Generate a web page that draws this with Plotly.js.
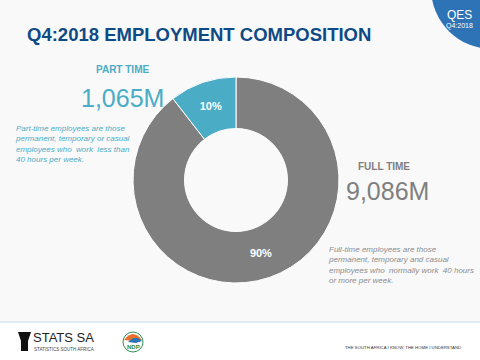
<!DOCTYPE html>
<html>
<head>
<meta charset="utf-8">
<script src="https://cdn.plot.ly/plotly-3.0.1.min.js"></script>
<style>html,body{margin:0;padding:0;background:#f9f9f9;}#chart{width:480px;height:360px;}</style>
</head>
<body>
<div id="chart"></div>
<script>
var categories = ["FULL TIME", "PART TIME"];
var employmentMillions = [9086, 1065];
var valueLabels = ["9,086M", "1,065M"];
var descriptions = [
  "Full-time employees are those<br>permanent, temporary and casual<br>employees who  normally work  40 hours<br>or more per week.",
  "Part-time employees are those<br>permanent, temporary or casual<br>employees who  work  less than<br>40 hours per week."
];
var sliceColors = ["#7F7F7F", "#4BACC6"];

var F = "'Liberation Sans', Arial, sans-serif";
function px(x){ return x/480; }
function py(y){ return 1 - y/360; }

var trace = {
  type: "pie",
  labels: categories,
  values: employmentMillions,
  sort: false,
  direction: "clockwise",
  rotation: 0,
  hole: 0.5,
  domain: {x: [px(133), px(339)], y: [py(283), py(77)]},
  marker: {colors: sliceColors, line: {color: "#ffffff", width: 1}},
  texttemplate: "%{percent:.0%}",
  textposition: "inside",
  insidetextorientation: "horizontal",
  textfont: {family: F, size: 11, color: "#ffffff", weight: "bold"},
  showlegend: false,
  hoverinfo: "none"
};

var ann = [];
ann.push({text: "Q4:2018 EMPLOYMENT COMPOSITION", x: px(26), y: py(34.5), xanchor: "left", yanchor: "middle",
  font: {family: F, size: 18.5, color: "#0E4A86", weight: "bold"}});
ann.push({text: "QES", x: px(459), y: py(15), xanchor: "center", yanchor: "middle",
  font: {family: F, size: 12, color: "#ffffff"}});
ann.push({text: "Q4:2018", x: px(459), y: py(26), xanchor: "center", yanchor: "middle",
  font: {family: F, size: 7, color: "#ffffff"}});
// Part time
ann.push({text: "<b>" + categories[1] + "</b>", x: px(123), y: py(70), xanchor: "center", yanchor: "middle",
  font: {family: F, size: 10, color: sliceColors[1]}});
ann.push({text: valueLabels[1], x: px(123), y: py(98), xanchor: "center", yanchor: "middle",
  font: {family: F, size: 25, color: sliceColors[1]}});
ann.push({text: "<i>" + descriptions[1] + "</i>", x: px(14), y: py(143.5), xanchor: "left", yanchor: "middle", align: "left",
  font: {family: F, size: 8, color: sliceColors[1]}});
// Full time
ann.push({text: "<b>" + categories[0] + "</b>", x: px(384), y: py(166), xanchor: "center", yanchor: "middle",
  font: {family: F, size: 10, color: sliceColors[0]}});
ann.push({text: valueLabels[0], x: px(387), y: py(191), xanchor: "center", yanchor: "middle",
  font: {family: F, size: 25, color: sliceColors[0]}});
ann.push({text: "<i>" + descriptions[0] + "</i>", x: px(327), y: py(264.5), xanchor: "left", yanchor: "middle", align: "left",
  font: {family: F, size: 8, color: "#8C8C8C"}});
// Footer
ann.push({text: "STATS SA", x: px(32), y: py(337.5), xanchor: "left", yanchor: "middle",
  font: {family: F, size: 13, color: "#222222"}});
ann.push({text: "STATISTICS SOUTH AFRICA", x: px(33), y: py(349), xanchor: "left", yanchor: "middle",
  font: {family: F, size: 4.5, color: "#444444"}});
ann.push({text: "<b>NDP</b>", x: px(133), y: py(347), xanchor: "center", yanchor: "middle",
  font: {family: F, size: 6, color: "#1E8B3C"}});
ann.push({text: "THE SOUTH AFRICA I KNOW, THE HOME I UNDERSTAND", x: px(344), y: py(347), xanchor: "left", yanchor: "middle",
  font: {family: F, size: 4.3, color: "#333333"}});
ann.forEach(function(a){ a.xref = "paper"; a.yref = "paper"; a.showarrow = false; a.borderpad = 0; });

var shapes = [
  {type: "rect", xref: "paper", yref: "paper", x0: 0, x1: 1, y0: 0, y1: py(322), fillcolor: "#ffffff", line: {width: 0}, layer: "below"},
  {type: "line", xref: "paper", yref: "paper", x0: 0, x1: 1, y0: py(322), y1: py(322), line: {color: "#C5DCEF", width: 1}},
  {type: "circle", xref: "paper", yref: "paper", x0: px(431), x1: px(553), y0: py(49), y1: py(-73), fillcolor: "#2E73B5", line: {width: 0}},
  // drum icon
  {type: "path", xref: "paper", yref: "paper",
   path: "M " + px(18) + "," + py(332) + " L " + px(31) + "," + py(332) + " L " + px(28) + "," + py(341) + " L " + px(28) + "," + py(351) + " L " + px(21) + "," + py(351) + " L " + px(21) + "," + py(341) + " Z",
   fillcolor: "#111111", line: {width: 0}},
  // NDP logo
  {type: "circle", xref: "paper", yref: "paper", x0: px(123), x1: px(143), y0: py(352), y1: py(332), fillcolor: "#ffffff", line: {color: "#2E8B57", width: 1}},
  {type: "path", xref: "paper", yref: "paper",
   path: "M " + px(124) + "," + py(340) + " Q " + px(133) + "," + py(328) + " " + px(142) + "," + py(340) + " L " + px(133) + "," + py(341) + " Z",
   fillcolor: "#E8702A", line: {width: 0}},
  {type: "path", xref: "paper", yref: "paper",
   path: "M " + px(128) + "," + py(342) + " Q " + px(136) + "," + py(334) + " " + px(142) + "," + py(341) + " L " + px(136) + "," + py(343) + " Z",
   fillcolor: "#2E73B5", line: {width: 0}}
];

var layout = {
  width: 480, height: 360,
  margin: {l: 0, r: 0, t: 0, b: 0},
  paper_bgcolor: "#f9f9f9",
  plot_bgcolor: "#f9f9f9",
  annotations: ann,
  shapes: shapes,
  showlegend: false
};

Plotly.newPlot("chart", [trace], layout, {displayModeBar: false, staticPlot: true});
</script>
</body>
</html>
